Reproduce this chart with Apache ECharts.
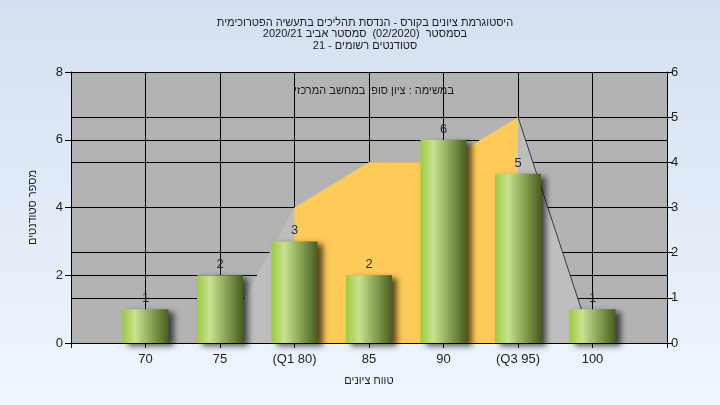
<!DOCTYPE html>
<html>
<head>
<meta charset="utf-8">
<script src="https://cdn.jsdelivr.net/npm/echarts@6/dist/echarts.min.js"></script>
<style>
html,body{margin:0;padding:0;}
#c{width:720px;height:405px;background:linear-gradient(to bottom,#d4e0f1,#eff6fd);}
</style>
</head>
<body>
<div id="c"></div>
<script>
var titleLines = ['היסטוגרמת ציונים בקורס - הנדסת תהליכים בתעשיה הפטרוכימית', 'בסמסטר  (02/2020)  סמסטר אביב 2020/21', 'סטודנטים רשומים - 21'];
var subtitle = 'במשימה : ציון סופי במחשב המרכזי';
var xName = 'טווח ציונים';
var yName = 'מספר סטודנטים';
var categories = ['70', '75', '(Q1 80)', '85', '90', '(Q3 95)', '100'];
var counts = [1, 2, 3, 2, 6, 5, 1];
var curve = [0, 0, 3, 4, 4, 5, 0];
var q1Index = 2, q3Index = 5;

var FONT = "'Liberation Sans', Arial, sans-serif";
var cats = [''].concat(categories, ['']);
function pad(a) { return [null].concat(a, [null]); }
var barData = pad(counts);
var greyArea = pad(curve);
var orangeArea = pad(curve.map(function (v, i) { return (i >= q1Index && i <= q3Index) ? v : null; }));
var descLine = pad(curve.map(function (v, i) { return (i >= q3Index) ? v : null; }));

var chart = echarts.init(document.getElementById('c'), null, {renderer: 'canvas'});
chart.setOption({
  backgroundColor: 'transparent',
  animation: false,
  textStyle: {fontFamily: FONT},
  title: [{
    text: titleLines.join('\n'),
    left: 360, top: 12, textAlign: 'center',
    textStyle: {fontSize: 11, lineHeight: 11.5, fontWeight: 'normal', color: '#1a1a2a', fontFamily: FONT}
  }, {
    text: subtitle,
    left: 369, top: 80, textAlign: 'center',
    textStyle: {fontSize: 11, fontWeight: 'normal', color: '#1a1a2a', fontFamily: FONT}
  }],
  grid: {left: 71, right: 53, top: 72, bottom: 62, show: true, backgroundColor: '#b3b3b3', borderWidth: 0},
  xAxis: {
    type: 'category', data: cats, boundaryGap: false,
    name: xName, nameLocation: 'middle', nameGap: 32,
    nameTextStyle: {fontSize: 11, color: '#1a1a2a', fontFamily: FONT},
    axisLine: {lineStyle: {color: '#000', width: 1}},
    axisTick: {show: true, length: 5, lineStyle: {color: '#000'}},
    axisLabel: {fontSize: 13, color: '#222', margin: 10, interval: 0, fontFamily: FONT},
    splitLine: {show: true, lineStyle: {color: '#000', width: 1}}
  },
  yAxis: [{
    type: 'value', min: 0, max: 8, interval: 2,
    name: yName, nameLocation: 'middle', nameGap: 33, nameRotate: 90,
    nameTextStyle: {fontSize: 11, color: '#1a1a2a', fontFamily: FONT},
    axisLine: {show: true, lineStyle: {color: '#000'}},
    axisTick: {show: true, length: 6, lineStyle: {color: '#000'}},
    axisLabel: {fontSize: 13, color: '#222', margin: 8, fontFamily: FONT},
    splitLine: {show: true, lineStyle: {color: '#000', width: 1}}
  }, {
    type: 'value', min: 0, max: 6, interval: 1, position: 'right',
    axisLine: {show: true, lineStyle: {color: '#000'}},
    axisTick: {show: true, length: 6, lineStyle: {color: '#000'}},
    axisLabel: {fontSize: 13, color: '#222', margin: 4, fontFamily: FONT},
    splitLine: {show: true, lineStyle: {color: '#000', width: 1}}
  }],
  series: [{
    type: 'line', yAxisIndex: 1, data: greyArea, symbol: 'none', z: 1,
    lineStyle: {width: 0}, areaStyle: {color: '#bebebe', opacity: 1}
  }, {
    type: 'line', yAxisIndex: 1, data: orangeArea, symbol: 'none', z: 1, connectNulls: false,
    lineStyle: {width: 0}, areaStyle: {color: '#fecb58', opacity: 1}
  }, {
    type: 'line', yAxisIndex: 1, data: descLine, symbol: 'none', z: 2,
    lineStyle: {width: 1, color: '#3a3a3a'}
  }, {
    type: 'bar', yAxisIndex: 0, data: barData, barWidth: 46, z: 3,
    itemStyle: {
      color: new echarts.graphic.LinearGradient(0, 0, 1, 0, [
        {offset: 0, color: '#9ccb3f'},
        {offset: 0.28, color: '#c8e291'},
        {offset: 0.6, color: '#8ea95a'},
        {offset: 1, color: '#485e1e'}
      ]),
      shadowColor: 'rgba(0,0,0,0.65)', shadowBlur: 6, shadowOffsetX: 5, shadowOffsetY: 3
    },
    label: {show: true, position: 'top', distance: 4, fontSize: 13, color: '#1a2a48', fontFamily: FONT}
  }]
});
</script>
</body>
</html>
